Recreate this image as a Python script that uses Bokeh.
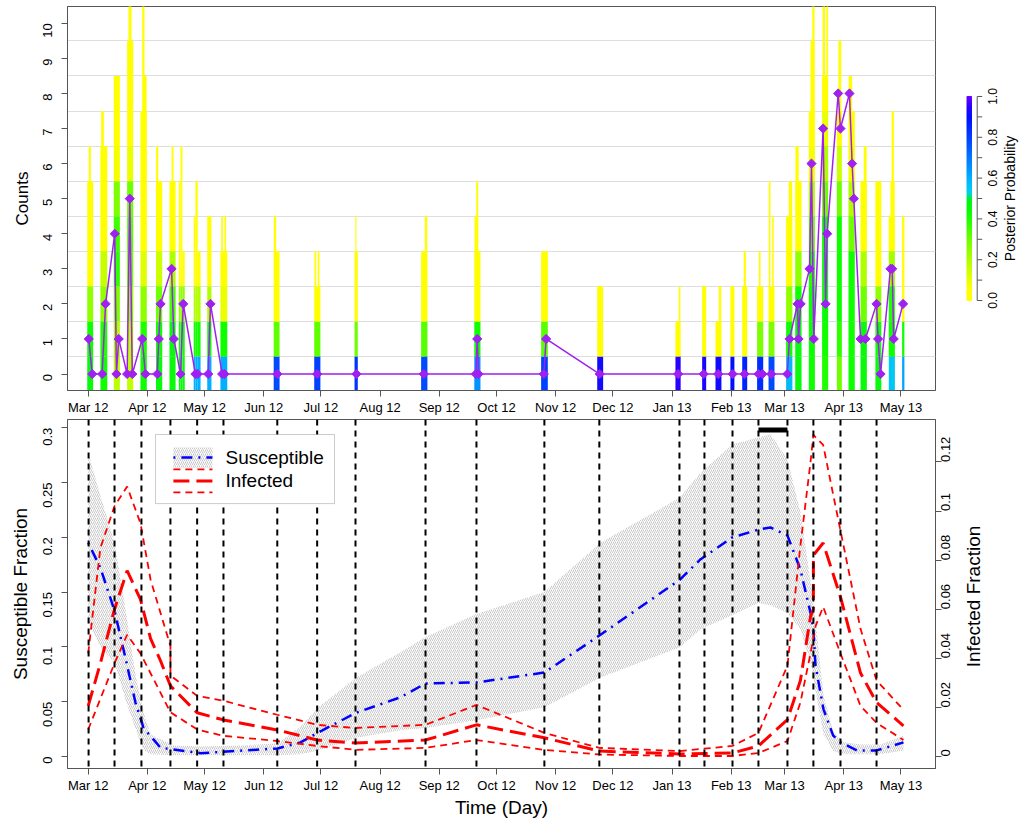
import math
from bokeh.plotting import figure
from bokeh.layouts import column, row
from bokeh.models import Range1d, LinearAxis, FixedTicker, Span, BoxAnnotation, Label
from bokeh.embed import file_html
from bokeh.resources import INLINE
from bokeh.core.properties import value

FONT = "Liberation Sans"
FRAME = "#555555"

# ---------------- data ----------------
# x positions: days since 1 Mar 2012
month_days = [0, 31, 61, 92, 122, 153, 184, 214, 245, 275, 306, 337, 365, 396, 426]
month_labels = ["Mar 12", "Apr 12", "May 12", "Jun 12", "Jul 12", "Aug 12", "Sep 12", "Oct 12",
                "Nov 12", "Dec 12", "Jan 13", "Feb 13", "Mar 13", "Apr 13", "May 13"]

# top panel: posterior probability for each count cell (0,1,2,...) per column
col_probs = [
    [0.45, 0.42, 0.25, 0.05, 0.04, 0.04],
    [0.42, 0.40, 0.25, 0.16, 0.05],
    [0.18, 0.20, 0.28, 0.38, 0.36, 0.28, 0.08, 0.04],
    [0.17, 0.18, 0.25, 0.30, 0.33, 0.30, 0.10, 0.05],
    [0.42, 0.40, 0.25, 0.12, 0.05],
    [0.45, 0.42, 0.30, 0.15, 0.05],
    [0.45, 0.45, 0.35, 0.20, 0.06],
    [0.45, 0.42, 0.25, 0.06],
    [0.60, 0.42, 0.20, 0.05],
    [0.60, 0.42, 0.20, 0.05],
    [0.60, 0.42, 0.10],
    [0.78, 0.32, 0.06],
    [0.80, 0.32],
    [0.82, 0.30],
    [0.78, 0.33],
    [0.65, 0.42, 0.06],
    [0.80, 0.33],
    [0.92],
    [0.95],
    [0.93],
    [0.92],
    [0.90],
    [0.86, 0.06],
    [0.84, 0.28],
    [0.78, 0.28],
    [0.58, 0.42, 0.25, 0.06],
    [0.45, 0.45, 0.42, 0.25, 0.06],
    [0.42, 0.43, 0.43, 0.40, 0.30, 0.20, 0.08],
    [0.40, 0.42, 0.44, 0.44, 0.42, 0.30, 0.20, 0.10, 0.05],
    [0.30, 0.38, 0.42, 0.42, 0.42, 0.30, 0.15, 0.06],
    [0.42, 0.42, 0.42, 0.42, 0.30, 0.20, 0.08, 0.04],
    [0.45, 0.45, 0.30, 0.20, 0.05],
    [0.45, 0.42, 0.25, 0.05],
    [0.55, 0.42, 0.40, 0.22, 0.05],
    [0.62, 0.42, 0.05],
]
# sub-bars: column index, start day, end day, highest count cell
sub_col = [0, 0, 1, 1, 2, 3, 3, 4, 4, 4, 5, 5, 6, 6, 7, 7, 7, 8, 8, 8, 9, 10, 10, 10,
           11, 11, 12, 12, 12, 13, 13, 14, 14, 15, 15, 15, 16, 17, 18, 18, 19, 20, 20, 21,
           22, 22, 23, 23, 24, 24, 24, 25, 25, 26, 26, 27, 27, 27, 28, 28, 28, 29, 29, 30, 30,
           31, 31, 32, 33, 33, 33, 34]
sub_x0 = [-0.5, 0.3, 6.4, 6.8, 13.4, 20.4, 21.1, 27.4, 28.9, 28.3, 35.6, 35.6, 42.6, 43.7,
          47.5, 48.4, 49.4, 55.3, 56.2, 57.4, 62.4, 69.3, 69.7, 71.4,
          97.3, 97.3, 118.6, 118.6, 120.3, 139.6, 140.0, 174.5, 176.4, 202.5, 202.5, 203.4,
          237.4, 266.8, 307.8, 309.5, 321.8, 328.8, 330.5, 336.6,
          342.8, 343.6, 350.6, 351.5, 356.7, 356.7, 358.5, 365.8, 367.2, 370.7, 370.7,
          377.7, 378.6, 379.5, 384.7, 384.9, 386.9, 392.4, 393.2, 398.6, 398.6,
          404.8, 406.5, 412.6, 419.6, 420.5, 421.1, 426.6]
sub_x1 = [2.6, 1.4, 10.0, 8.2, 16.6, 23.6, 22.7, 30.6, 30.6, 29.5, 38.8, 36.7, 45.8, 44.7,
          48.4, 49.4, 50.6, 56.2, 57.4, 58.9, 64.6, 72.9, 70.6, 72.3,
          100.3, 98.5, 121.7, 119.5, 121.2, 141.3, 140.6, 177.7, 177.7, 205.6, 204.4, 204.4,
          240.9, 269.9, 310.4, 310.4, 323.9, 331.8, 331.8, 338.7,
          345.4, 344.7, 353.8, 352.4, 359.7, 357.6, 359.3, 369.0, 369.0, 373.9, 372.4,
          380.7, 380.7, 380.7, 387.8, 386.2, 387.8, 395.0, 394.7, 401.8, 400.4,
          408.0, 408.0, 415.7, 422.7, 422.7, 422.3, 427.8]
sub_top = [5, 6, 6, 7, 8, 9, 11, 7, 8, 11, 5, 6, 5, 6, 5, 6, 3, 4, 5, 3, 4, 3, 4, 4,
           3, 4, 2, 3, 3, 3, 4, 3, 4, 3, 4, 5, 3, 2, 1, 2, 2, 1, 2, 2,
           2, 3, 2, 3, 2, 5, 4, 4, 5, 5, 6, 7, 9, 11, 8, 11, 11, 7, 9, 7, 8,
           5, 6, 5, 4, 5, 7, 4]

# observed counts (purple diamonds)
obs_day = [0.3, 2.1, 7.3, 9.1, 13.9, 14.8, 16.0, 20.4, 21.8, 23.1, 28.3, 30.0, 36.2, 37.0, 37.9,
           43.7, 44.9, 48.4, 49.8, 56.2, 57.4, 62.9, 64.1, 70.2, 71.4, 99.1, 120.0, 140.6, 175.9,
           203.2, 203.9, 204.6, 238.8, 240.0, 268.1, 309.2, 322.6, 330.2, 337.8, 344.0, 351.3,
           353.4, 358.0, 366.4, 367.6, 371.8, 372.3, 373.4, 378.1, 379.1, 380.3, 385.2, 386.5,
           387.3, 393.1, 394.3, 399.0, 400.4, 401.3, 404.8, 407.4, 413.2, 414.0, 415.3, 420.5,
           421.4, 422.2, 427.1]
obs_count = [1, 0, 0, 2, 4, 0, 1, 0, 5, 0, 1, 0, 0, 1, 2,
             3, 1, 0, 2, 0, 0, 0, 2, 0, 0, 0, 0, 0, 0,
             0, 1, 0, 0, 1, 0, 0, 0, 0, 0, 0, 0,
             0, 0, 0, 1, 2, 1, 2, 3, 6, 1, 7, 2,
             4, 8, 7, 8, 6, 5, 1, 1, 2, 1, 0, 3,
             3, 1, 2]

prob_stops = [0.0, 0.06, 0.12, 0.2, 0.3, 0.42, 0.5, 0.53, 0.6, 0.7, 0.8, 0.9, 0.95, 1.0]
prob_colors = ["#FFFF00", "#FFFF00", "#E0FF00", "#B0FF00", "#70FF00", "#10FF00", "#00F020",
               "#00D0F0", "#00B0FF", "#0078FF", "#0040FF", "#0010FF", "#2800FF", "#6A00FF"]
prob_ticks = [0.0, 0.2, 0.4, 0.6, 0.8, 1.0]
prob_minor = [0.1, 0.3, 0.5, 0.7, 0.9]

# bottom panel
obs_times = [0.2, 13.8, 27.9, 43.1, 57.1, 70.9, 99.1, 120.0, 140.1, 176.8, 203.5, 239.1, 267.9,
             309.9, 323.0, 337.7, 351.3, 366.5, 380.1, 394.3, 413.2]
alarm_window = [351.3, 366.5]

band_days = [0, 6.4, 13.8, 19.5, 24.8, 29, 32.7, 45, 58.9, 80, 99.2, 111.3, 120.7, 140.6, 163.7,
             176.8, 203.5, 239.1, 268.5, 309.9, 321, 337.7, 351.3, 357.6, 366.5, 373.3, 378.6,
             381.2, 385.4, 390.5, 396, 405, 415.3, 427.3]
S_hi = [0.277, 0.238, 0.195, 0.135, 0.075, 0.040, 0.020, 0.010, 0.009, 0.010, 0.012, 0.027, 0.045,
        0.072, 0.095, 0.109, 0.130, 0.150, 0.195, 0.236, 0.259, 0.285, 0.291, 0.294, 0.271, 0.223,
        0.160, 0.125, 0.056, 0.022, 0.013, 0.011, 0.011, 0.019]
S_lo = [0.122, 0.100, 0.086, 0.052, 0.025, 0.006, 0.002, 0.001, 0.001, 0.001, 0.001, 0.002, 0.0055,
        0.017, 0.024, 0.026, 0.033, 0.045, 0.072, 0.0995, 0.116, 0.129, 0.140, 0.138, 0.131, 0.116,
        0.086, 0.060, 0.020, 0.005, 0.002, 0.002, 0.002, 0.0055]

S_days = [0, 6.4, 13.8, 19.5, 24.8, 29, 37.9, 58.9, 99.2, 111.3, 120.7, 140.6, 163.7, 176.8, 203.5,
          239.1, 268.5, 309.9, 321, 337.7, 351.3, 357.6, 366.5, 373.3, 378.6, 380.1, 381.2, 385.4,
          390.5, 394.3, 403, 413.2, 427.3]
S_med = [0.195, 0.172, 0.133, 0.09, 0.049, 0.026, 0.008, 0.003, 0.0073, 0.0128, 0.022, 0.040, 0.054,
         0.0666, 0.0675, 0.0766, 0.111, 0.161, 0.180, 0.200, 0.207, 0.209, 0.2016, 0.1706, 0.131,
         0.116, 0.083, 0.043, 0.019, 0.0128, 0.0055, 0.0055, 0.0128]

I_days_med = [0, 6.4, 13.8, 20.4, 27.4, 32.7, 37.9, 43.1, 57.1, 70.9, 99.1, 120, 140.1, 176.8,
              203.5, 239.1, 267.9, 309.9, 337.7, 351.3, 366.5, 373.3, 378.6, 380.1, 380.1, 385.2,
              394.3, 404.8, 413.2, 427.3]
I_med = [0.0206, 0.038, 0.06, 0.0757, 0.064, 0.048, 0.039, 0.0288, 0.0178, 0.0149, 0.0108, 0.0067,
         0.0055, 0.0067, 0.0129, 0.0076, 0.0022, 0.001, 0.0014, 0.0043, 0.015, 0.031, 0.057, 0.06,
         0.082, 0.087, 0.065, 0.034, 0.022, 0.0125]
I_days_hi = [0, 6.4, 13.8, 20.4, 27.4, 32.7, 43.1, 43.1, 57.1, 70.9, 99.1, 120, 140.1, 176.8, 203.5,
             239.1, 267.9, 309.9, 337.7, 351.3, 366.5, 373.3, 378.6, 380.1, 385.2, 394.3, 404.8,
             413.2, 427.3]
I_hi = [0.042, 0.085, 0.102, 0.110, 0.095, 0.072, 0.045, 0.033, 0.0247, 0.0227, 0.017, 0.0129,
        0.0116, 0.0129, 0.021, 0.0096, 0.0035, 0.0022, 0.0043, 0.0096, 0.037, 0.086, 0.12, 0.131,
        0.127, 0.092, 0.052, 0.031, 0.019]
I_days_lo = [0, 13.8, 20.4, 27.4, 43.1, 57.1, 70.9, 99.1, 120, 140.1, 176.8, 203.5, 239.1, 267.9,
             309.9, 337.7, 351.3, 366.5, 373.3, 378.6, 381.2, 385.2, 394.3, 404.8, 413.2, 427.3]
I_lo = [0.011, 0.038, 0.0496, 0.042, 0.018, 0.011, 0.0084, 0.0063, 0.0043, 0.0027, 0.0035, 0.0067,
        0.0027, 0.0008, 0.0002, 0.0002, 0.0014, 0.0063, 0.022, 0.042, 0.053, 0.061, 0.042, 0.0206,
        0.0137, 0.0067]

S_ticks = [0.0, 0.05, 0.1, 0.15, 0.2, 0.25, 0.3]
S_tick_labels = ["0", "0.05", "0.1", "0.15", "0.2", "0.25", "0.3"]
I_ticks = [0.0, 0.02, 0.04, 0.06, 0.08, 0.1, 0.12]
I_tick_labels = ["0", "0.02", "0.04", "0.06", "0.08", "0.1", "0.12"]


# ---------------- helpers ----------------
def hex2rgb(h):
    h = h.lstrip("#")
    return [int(h[i:i + 2], 16) for i in (0, 2, 4)]


def prob_color(p):
    p = min(max(p, 0.0), 1.0)
    for i in range(len(prob_stops) - 1):
        if p <= prob_stops[i + 1]:
            t = (p - prob_stops[i]) / (prob_stops[i + 1] - prob_stops[i])
            a = hex2rgb(prob_colors[i])
            b = hex2rgb(prob_colors[i + 1])
            return "#%02x%02x%02x" % tuple(int(round(a[j] + (b[j] - a[j]) * t)) for j in range(3))
    return prob_colors[-1]


def style_axis(ax, label_size="13px", title_size="17px"):
    ax.major_label_text_font = FONT
    ax.major_label_text_font_size = label_size
    ax.major_label_text_color = "black"
    ax.axis_label_text_font = FONT
    ax.axis_label_text_font_size = title_size
    ax.axis_label_text_font_style = "normal"
    ax.axis_label_text_color = "black"
    ax.axis_line_color = FRAME
    ax.major_tick_line_color = FRAME
    ax.minor_tick_line_color = None
    ax.major_tick_in = 0
    ax.major_tick_out = 6


def blank(p):
    p.outline_line_color = None
    p.xaxis.visible = False
    p.yaxis.visible = False
    p.xgrid.visible = False
    p.ygrid.visible = False


XR = (-10.85, 444.1)
HATCH = dict(hatch_pattern="/", hatch_color="#C2C2C2", hatch_scale=4, hatch_weight=0.9)

# ---------------- top panel ----------------
p1 = figure(frame_width=868, frame_height=384, x_range=Range1d(*XR), y_range=Range1d(-0.47, 10.48),
            output_backend="svg", toolbar_location=None, min_border_left=67, min_border_right=20,
            min_border_top=6, min_border_bottom=25)
p1.outline_line_color = FRAME
p1.xgrid.visible = False
p1.ygrid.ticker = FixedTicker(ticks=[k + 0.5 for k in range(0, 10)])
p1.ygrid.grid_line_color = "#DEDEDE"
p1.ygrid.grid_line_width = 1

qx0, qx1, qb, qt, qc = [], [], [], [], []
for c, x0, x1, top in zip(sub_col, sub_x0, sub_x1, sub_top):
    probs = col_probs[c]
    for k in range(top + 1):
        pr = probs[k] if k < len(probs) else 0.03
        qx0.append(x0)
        qx1.append(x1)
        qb.append(k - 0.5)
        qt.append(k + 0.5)
        qc.append(prob_color(pr))
p1.quad(left=qx0, right=qx1, bottom=qb, top=qt, fill_color=qc, line_color=None)

p1.line(obs_day, obs_count, line_color="#A020F0", line_width=1.5)
p1.scatter(obs_day, obs_count, marker="square", angle=math.pi / 4, size=6.5,
           fill_color="#A020F0", line_color="#A020F0")

style_axis(p1.xaxis[0])
p1.xaxis.ticker = FixedTicker(ticks=month_days)
p1.xaxis.major_label_overrides = {d: l for d, l in zip(month_days, month_labels)}
p1.xaxis.major_label_standoff = 3
style_axis(p1.yaxis[0])
p1.yaxis.ticker = FixedTicker(ticks=list(range(11)))
p1.yaxis.major_label_orientation = math.pi / 2
p1.yaxis.major_label_standoff = 14
p1.yaxis.axis_label = "Counts"
p1.yaxis.axis_label_standoff = 4

# colour bar drawn in its own small plot (x in pixels from its left edge)
pcb = figure(frame_width=64, frame_height=384, x_range=Range1d(0, 64), y_range=Range1d(-0.441, 1.441),
             output_backend="svg", toolbar_location=None, min_border_left=0, min_border_right=0,
             min_border_top=6, min_border_bottom=25)
blank(pcb)
nlev = 100
cb_b = [i / nlev for i in range(nlev)]
cb_t = [(i + 1) / nlev for i in range(nlev)]
cb_c = [prob_color((i + 0.5) / nlev) for i in range(nlev)]
pcb.quad(left=11.5, right=16, bottom=cb_b, top=cb_t, fill_color=cb_c, line_color=cb_c)
AXX = 21.7
pcb.segment(x0=[AXX], x1=[AXX], y0=[prob_ticks[0]], y1=[prob_ticks[-1]], line_color=FRAME, line_width=1)
all_ticks = sorted(prob_ticks + prob_minor)
pcb.segment(x0=[AXX] * len(all_ticks), x1=[AXX + 5] * len(all_ticks), y0=all_ticks, y1=all_ticks,
            line_color=FRAME, line_width=1)
pcb.text(x=[AXX + 15] * len(prob_ticks), y=prob_ticks, text=["%.1f" % t for t in prob_ticks],
         angle=math.pi / 2, text_align="center", text_baseline="middle",
         text_font=value(FONT), text_font_size="12px", text_color="black")
pcb.text(x=[54], y=[0.5], text=["Posterior Probability"], angle=math.pi / 2, text_align="center",
         text_baseline="middle", text_font=value(FONT), text_font_size="14px", text_color="black")

# ---------------- bottom panel ----------------
YR = (-0.011, 0.3075)
p2 = figure(frame_width=868, frame_height=349, x_range=Range1d(*XR), y_range=Range1d(*YR),
            output_backend="svg", toolbar_location=None, min_border_left=67, min_border_right=25,
            min_border_top=2, min_border_bottom=50)
p2.extra_y_ranges = {"inf": Range1d(-0.0049, 0.1373)}
p2.outline_line_color = FRAME
p2.xgrid.visible = False
p2.ygrid.visible = False

p2.varea(x=band_days, y1=S_lo, y2=S_hi, fill_alpha=0.0, **HATCH)

for d in obs_times:
    p2.add_layout(Span(location=d, dimension="height", line_color="black", line_width=2,
                       line_dash="6 5"))

p2.line(S_days, S_med, line_color="#0000FF", line_width=2.5, line_dash="2 6 11 6")
p2.line(I_days_hi, I_hi, line_color="#FF0000", line_width=1.8, line_dash="7 5", y_range_name="inf")
p2.line(I_days_lo, I_lo, line_color="#FF0000", line_width=1.8, line_dash="7 5", y_range_name="inf")
p2.line(I_days_med, I_med, line_color="#FF0000", line_width=3, line_dash="16 7", y_range_name="inf")

bar_y = YR[1] - 0.03 * (YR[1] - YR[0])
p2.segment(x0=[alarm_window[0]], x1=[alarm_window[1]], y0=[bar_y], y1=[bar_y], line_color="black",
           line_width=5)

style_axis(p2.xaxis[0], title_size="19px")
p2.xaxis.ticker = FixedTicker(ticks=month_days)
p2.xaxis.major_label_overrides = {d: l for d, l in zip(month_days, month_labels)}
p2.xaxis.major_label_standoff = 3
p2.xaxis.axis_label = "Time (Day)"
p2.xaxis.axis_label_standoff = 1
style_axis(p2.yaxis[0], title_size="19px")
p2.yaxis.ticker = FixedTicker(ticks=S_ticks)
p2.yaxis.major_label_overrides = {t: l for t, l in zip(S_ticks, S_tick_labels)}
p2.yaxis.major_label_orientation = math.pi / 2
p2.yaxis.major_label_standoff = 14
p2.yaxis.axis_label = "Susceptible Fraction"
p2.yaxis.axis_label_standoff = 5

rax = LinearAxis(y_range_name="inf", ticker=FixedTicker(ticks=I_ticks),
                 major_label_overrides={t: l for t, l in zip(I_ticks, I_tick_labels)})
style_axis(rax, title_size="19px")
rax.major_label_orientation = math.pi / 2
rax.major_label_standoff = 4
p2.add_layout(rax, "right")

# right-hand title in its own blank strip (x, y in pixels)
P2H = 2 + 349 + 50
pt2 = figure(frame_width=50, frame_height=P2H, x_range=Range1d(0, 50), y_range=Range1d(0, P2H),
             output_backend="svg", toolbar_location=None, min_border_left=0, min_border_right=0,
             min_border_top=0, min_border_bottom=0)
blank(pt2)
pt2.add_layout(Label(x=13, y=P2H - (2 + 349 * (1 - 0.4986)), text="Infected Fraction",
                     angle=math.pi / 2, text_align="center", text_baseline="middle",
                     text_font=FONT, text_font_size="19px", text_color="black"))


# legend (placed by fractions of the frame)
def fx(f):
    return XR[0] + f * (XR[1] - XR[0])


def fy(f):
    return YR[0] + f * (YR[1] - YR[0])


p2.add_layout(BoxAnnotation(left=fx(0.1014), right=fx(0.3076), bottom=fy(0.759), top=fy(0.957),
                            fill_color="white", fill_alpha=1.0, line_color=FRAME, line_width=1))
p2.quad(left=[fx(0.122)], right=[fx(0.167)], bottom=[fy(0.862)], top=[fy(0.92)], fill_alpha=0.0,
        line_color=None, level="overlay", **HATCH)
p2.line([fx(0.122), fx(0.167)], [fy(0.891), fy(0.891)], line_color="#0000FF", line_width=2.5,
        line_dash="2 6 11 6", level="overlay")
for fyv, lw, dash in [(0.857, 1.8, "7 5"), (0.824, 3, "16 7"), (0.791, 1.8, "7 5")]:
    p2.line([fx(0.122), fx(0.167)], [fy(fyv), fy(fyv)], line_color="#FF0000", line_width=lw,
            line_dash=dash, level="overlay")
for txt, fyv in [("Susceptible", 0.891), ("Infected", 0.824)]:
    p2.add_layout(Label(x=fx(0.182), y=fy(fyv), text=txt, text_baseline="middle", text_align="left",
                        text_font=FONT, text_font_size="19px", text_color="black"))

for p in (p1, pcb, p2, pt2):
    p.background_fill_color = "white"
    p.border_fill_color = "white"

layout = column(row(p1, pcb), row(p2, pt2))
open("out.html", "w").write(file_html(layout, INLINE))
